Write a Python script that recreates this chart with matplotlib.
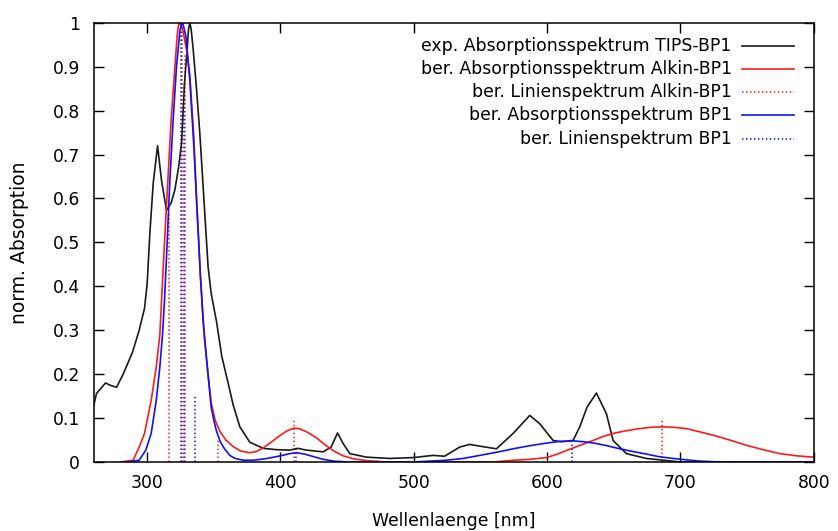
import matplotlib
matplotlib.use('Agg')
import matplotlib.pyplot as plt

# experimental spectrum TIPS-BP1
exp_wl = [260, 262, 268.8, 272, 277, 282, 289, 294, 298, 300, 302, 304.5, 307.8, 310.8,
          314.5, 318, 320.8, 323.5, 325.8, 328, 330, 331, 332, 333, 334.5, 337, 339.5, 342,
          345.7, 348, 352, 356, 360.7, 364.5, 369.5, 377, 387, 397, 407, 413, 419.5, 432,
          438, 442.8, 447, 452, 464.5, 482, 499.5, 514.5, 523, 534.5, 542, 549.5, 562,
          574.5, 587, 594.5, 604.5, 610.8, 619.5, 624.5, 630, 637, 644.5, 649.5, 659.5,
          674.5, 687, 700, 800]
exp_abs = [0.13, 0.156, 0.18, 0.175, 0.17, 0.2, 0.25, 0.30, 0.35, 0.406, 0.52, 0.634, 0.72,
           0.64, 0.573, 0.59, 0.62, 0.67, 0.726, 0.862, 0.94, 0.985, 1.0, 0.985, 0.94, 0.85,
           0.748, 0.626, 0.444, 0.384, 0.32, 0.24, 0.18, 0.13, 0.08, 0.045, 0.031, 0.028,
           0.027, 0.031, 0.027, 0.023, 0.034, 0.066, 0.042, 0.019, 0.011, 0.008, 0.010,
           0.015, 0.013, 0.034, 0.04, 0.036, 0.030, 0.065, 0.106, 0.087, 0.049, 0.046,
           0.049, 0.08, 0.125, 0.157, 0.11, 0.049, 0.019, 0.008, 0.004, 0.0, 0.0]

# calculated absorption spectrum Alkin-BP1
alk_wl = [280, 289.5, 294, 298, 303, 306.8, 309.5, 310.8, 313, 315.5, 318, 320.8, 322.5,
          323.3, 324, 325.5, 327, 330, 332, 335, 337, 340, 343, 346, 348, 351, 354.5, 359,
          364.5, 370, 377, 382, 387, 393, 399.5, 405, 410, 414, 420, 427, 433, 440, 447,
          455, 465, 480, 560, 575, 587, 599.5, 607, 614.5, 624, 634.5, 642, 649.5, 659,
          669.5, 678, 687, 695, 704.5, 714, 724.5, 737, 749.5, 762, 774.5, 787, 800]
alk_abs = [0.0, 0.004, 0.034, 0.065, 0.14, 0.216, 0.29, 0.368, 0.5, 0.64, 0.78, 0.9, 0.97,
           0.99, 1.0, 0.995, 0.98, 0.93, 0.88, 0.74, 0.6, 0.42, 0.28, 0.19, 0.135, 0.095,
           0.07, 0.05, 0.035, 0.025, 0.021, 0.024, 0.032, 0.045, 0.06, 0.071, 0.077, 0.076,
           0.068, 0.055, 0.04, 0.025, 0.014, 0.007, 0.003, 0.0, 0.0, 0.004, 0.006, 0.01,
           0.017, 0.026, 0.037, 0.049, 0.058, 0.065, 0.071, 0.076, 0.079, 0.080, 0.079,
           0.076, 0.069, 0.061, 0.05, 0.038, 0.028, 0.019, 0.014, 0.011]

# calculated absorption spectrum BP1
bp_wl = [285, 294, 299, 303, 306.8, 309.5, 311.5, 313, 315, 317, 319.5, 322, 324.5, 325.5,
         326.5, 327.5, 329, 332, 335, 337, 340, 342, 345, 348, 350, 352, 355, 358, 362,
         366, 372, 380, 390, 400, 407, 412, 418, 425, 432, 440, 450, 500, 524.5, 537,
         549.5, 562, 574.5, 587, 599.5, 610, 619.5, 628, 637, 645, 654.5, 664, 674.5, 684,
         694.5, 704, 714.5, 730, 800]
bp_abs = [0.0, 0.004, 0.027, 0.065, 0.14, 0.216, 0.29, 0.368, 0.5, 0.64, 0.78, 0.9, 0.98,
          0.995, 1.0, 0.99, 0.97, 0.87, 0.72, 0.6, 0.42, 0.32, 0.22, 0.125, 0.095, 0.07,
          0.045, 0.03, 0.015, 0.008, 0.004, 0.004, 0.008, 0.014, 0.019, 0.021, 0.018,
          0.012, 0.006, 0.002, 0.0, 0.0, 0.004, 0.008, 0.015, 0.022, 0.03, 0.037, 0.043,
          0.047, 0.048, 0.046, 0.042, 0.037, 0.03, 0.024, 0.018, 0.012, 0.008, 0.005,
          0.002, 0.0, 0.0]

# line spectra
alk_lines_wl = [316.5, 326, 328, 353.5, 410, 686]
alk_lines_f = [0.57, 1.0, 0.93, 0.05, 0.095, 0.10]
bp_lines_wl = [325, 327.5, 335.5, 412, 619]
bp_lines_f = [1.0, 0.86, 0.15, 0.03, 0.045]

labels = ['exp. Absorptionsspektrum TIPS-BP1',
          'ber. Absorptionsspektrum Alkin-BP1',
          'ber. Linienspektrum Alkin-BP1',
          'ber. Absorptionsspektrum BP1',
          'ber. Linienspektrum BP1']

RED = '#ff1a1a'
BLUE = '#1010ff'
BLACK = '#1a1a1a'
DOT = (0, (1, 1.6))

plt.rcParams['font.family'] = 'DejaVu Sans'
plt.rcParams['font.size'] = 12.4

fig = plt.figure(figsize=(8.38, 5.31), dpi=100)
ax = fig.add_axes([0.112, 0.130, 0.859, 0.827])

for w, f in zip(alk_lines_wl, alk_lines_f):
    ax.plot([w, w], [0, f], color=RED, lw=1.1, ls=DOT)
for w, f in zip(bp_lines_wl, bp_lines_f):
    ax.plot([w, w], [0, f], color=BLUE, lw=1.1, ls=DOT)

ax.plot(exp_wl, exp_abs, color=BLACK, lw=1.2)
ax.plot(alk_wl, alk_abs, color=RED, lw=1.2)
ax.plot(bp_wl, bp_abs, color=BLUE, lw=1.2)

ax.set_xlim(260, 800)
ax.set_ylim(0, 1)
ax.set_xticks([300, 400, 500, 600, 700, 800])
ax.set_yticks([i / 10 for i in range(11)])
ax.set_yticklabels(['0'] + ['0.%d' % i for i in range(1, 10)] + ['1'])
ax.tick_params(direction='in', length=7, width=1, top=True, right=True, pad=9)
ax.tick_params(axis='y', pad=10)
for s in ax.spines.values():
    s.set_linewidth(1.1)
ax.set_xlabel('Wellenlaenge [nm]', labelpad=14)
ax.set_ylabel('norm. Absorption', labelpad=17, fontsize=13.5)

# gnuplot-like key: right aligned text, sample to the right
styles = [(BLACK, '-'), (RED, '-'), (RED, DOT), (BLUE, '-'), (BLUE, DOT)]
for i, (lab, (c, ls)) in enumerate(zip(labels, styles)):
    y = 0.948 - i * 0.053
    ax.text(0.886, y, lab, transform=ax.transAxes, ha='right', va='center')
    ax.plot([0.901, 0.973], [y, y], transform=ax.transAxes, color=c, ls=ls,
            lw=1.2 if ls == '-' else 1.1)

fig.savefig('out.png', dpi=100)
